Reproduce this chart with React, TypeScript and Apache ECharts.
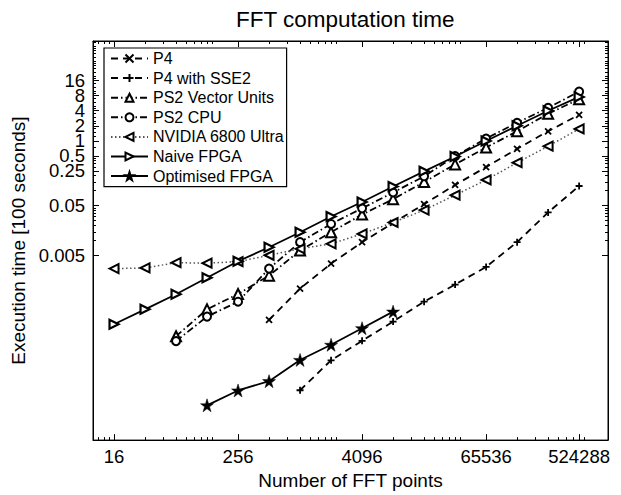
import React, { useEffect, useRef } from "react";
import * as echarts from "echarts";

// ---- data ----
const fftSizes = [16, 32, 64, 128, 256, 512, 1024, 2048, 4096, 8192, 16384, 32768, 65536, 131072, 262144, 524288];

const seriesNames = ["P4", "P4 with SSE2", "PS2 Vector Units", "PS2 CPU", "NVIDIA 6800 Ultra", "Naive FPGA", "Optimised FPGA"];

const p4Sizes = fftSizes.slice(5);
const p4Times = [2.56e-4, 1.09e-3, 3.44e-3, 9.29e-3, 0.0225, 0.0537, 0.13, 0.297, 0.69, 1.55, 3.32];

const sse2Sizes = fftSizes.slice(6);
const sse2Times = [9.98e-6, 3.98e-5, 9.77e-5, 2.38e-4, 5.94e-4, 1.31e-3, 2.96e-3, 9.29e-3, 0.0367, 0.124];

const ps2VuSizes = fftSizes.slice(2);
const ps2VuTimes = [1.21e-4, 4.18e-4, 8.49e-4, 1.98e-3, 6.32e-3, 0.0147, 0.0332, 0.0676, 0.149, 0.336, 0.733, 1.55, 3.48, 6.82];

const ps2CpuSizes = fftSizes.slice(2);
const ps2CpuTimes = [9.64e-5, 2.99e-4, 5.94e-4, 2.74e-3, 9.29e-3, 0.0215, 0.0442, 0.0918, 0.194, 0.492, 1.11, 2.3, 4.58, 9.66];

const nvidiaSizes = fftSizes;
const nvidiaTimes = [2.74e-3, 2.82e-3, 3.6e-3, 3.52e-3, 3.77e-3, 5.07e-3, 6.84e-3, 8.6e-3, 0.0136, 0.023, 0.0408, 0.0811, 0.164, 0.363, 0.778, 1.73];

const naiveSizes = fftSizes;
const naiveTimes = [2.1e-4, 4.18e-4, 8.41e-4, 1.79e-3, 3.85e-3, 7.33e-3, 0.0147, 0.0303, 0.0594, 0.121, 0.244, 0.485, 0.987, 2.0, 3.99, 7.58];

const optSizes = fftSizes.slice(3, 10);
const optTimes = [4.98e-6, 9.89e-6, 1.52e-5, 4.04e-5, 8.13e-5, 1.75e-4, 3.76e-4];

const xTickLabels = [16, 256, 4096, 65536, 524288];
const yTickLabels = [0.005, 0.05, 0.25, 0.5, 1, 2, 4, 8, 16];

// ---- styling ----
const FONT = "'Liberation Sans', Arial, Helvetica, sans-serif";
const X_MIN = 10;
const X_MAX = 1e6;
const Y_MIN = 1e-6;
const Y_MAX = 100;

const mult = [2, 3, 4, 5, 6, 7, 8, 9];
const xMinor = [11.2, 12.8, 14.4].concat(
  xTickLabels.slice(0, 4).flatMap((m) => mult.map((k) => m * k))
).filter((v) => v < X_MAX);
const yMinor = yTickLabels.flatMap((m) => mult.map((k) => m * k)).filter((v) => v < Y_MAX);
// y labels are split over two overlaid axes so that ECharts does not drop touching neighbours
const yLabelsA = yTickLabels.filter((_, i) => i < 2 || i % 2 === 1);
const yLabelsB = yTickLabels.filter((v) => yLabelsA.indexOf(v) < 0);

const STAR =
  "path://M50,0 L61.2,34.6 L97.6,34.5 L68.1,55.9 L79.4,90.5 L50,69 L20.6,90.5 L31.9,55.9 L2.4,34.5 L38.8,34.6 Z";
const PLUS = "path://M5,0 L5,10 M0,5 L10,5";
const CROSS = "path://M0,0 L10,10 M10,0 L0,10";
const TRI_LEFT = "path://M0,5 L10,0 L10,10 Z";
const TRI_RIGHT = "path://M10,5 L0,0 L0,10 Z";
const TRI_UP = "path://M5,0 L10,10 L0,10 Z";

function pairs(xs: number[], ys: number[]) {
  return xs.map((x, i) => [x, ys[i]]);
}

function xAxisDef(position: "top" | "bottom", major: boolean, withLabels: boolean) {
  return {
    type: "log",
    logBase: 10,
    min: X_MIN,
    max: X_MAX,
    position,
    gridIndex: 0,
    axisLine: { show: major, onZero: false, lineStyle: { color: "#000", width: 1 } },
    axisTick: {
      show: true,
      inside: true,
      length: major ? 6 : 3,
      customValues: major ? xTickLabels : xMinor,
      lineStyle: { color: "#000", width: 1 },
    },
    axisLabel: withLabels
      ? {
          show: true,
          customValues: xTickLabels,
          formatter: (v: number) => String(Math.round(v)),
          color: "#000",
          fontSize: 18.5,
          fontFamily: FONT,
          margin: 7,
          showMinLabel: true,
          showMaxLabel: true,
          hideOverlap: false,
        }
      : { show: false },
    splitLine: { show: false },
    minorTick: { show: false },
    minorSplitLine: { show: false },
    ...(withLabels
      ? {
          name: "Number of FFT points",
          nameLocation: "middle",
          nameGap: 21,
          nameTextStyle: { color: "#000", fontSize: 19, fontFamily: FONT },
        }
      : {}),
  };
}

function yAxisDef(
  position: "left" | "right",
  line: boolean,
  ticks: number[] | null,
  tickLen: number,
  labels: number[] | null,
  withName: boolean
) {
  return {
    type: "log",
    logBase: 10,
    min: Y_MIN,
    max: Y_MAX,
    position,
    gridIndex: 0,
    axisLine: { show: line, onZero: false, lineStyle: { color: "#000", width: 1 } },
    axisTick: ticks
      ? {
          show: true,
          inside: true,
          length: tickLen,
          customValues: ticks,
          lineStyle: { color: "#000", width: 1 },
        }
      : { show: false },
    axisLabel: labels
      ? {
          show: true,
          customValues: labels,
          formatter: (v: number) => String(v),
          color: "#000",
          fontSize: 18.5,
          fontFamily: FONT,
          margin: 8,
          showMinLabel: true,
          showMaxLabel: true,
          hideOverlap: false,
        }
      : { show: false },
    splitLine: { show: false },
    minorTick: { show: false },
    minorSplitLine: { show: false },
    ...(withName
      ? {
          name: "Execution time [100 seconds]",
          nameLocation: "middle",
          nameGap: 58,
          nameTextStyle: { color: "#000", fontSize: 19, fontFamily: FONT },
        }
      : {}),
  };
}

function lineSeries(
  name: string,
  data: number[][],
  dash: any,
  symbol: string,
  symbolSize: number,
  fill: string,
  borderWidth: number,
  lineColor = "#000",
  lineWidth = 1.8
) {
  return {
    name,
    type: "line",
    data,
    xAxisIndex: 0,
    yAxisIndex: 0,
    symbol,
    symbolSize,
    showAllSymbol: true,
    lineStyle: { color: lineColor, width: lineWidth, type: dash },
    itemStyle: { color: fill, borderColor: "#000", borderWidth },
    emphasis: { disabled: true },
  };
}

export default function App() {
  const ref = useRef<HTMLDivElement>(null);

  useEffect(() => {
    if (!ref.current) return;
    const chart = echarts.init(ref.current, undefined, { renderer: "svg" });
    const option: any = {
      animation: false,
      backgroundColor: "#fff",
      title: {
        text: "FFT computation time",
        left: 231,
        top: 3,
        textStyle: { color: "#000", fontSize: 22.5, fontWeight: "normal", fontFamily: FONT },
      },
      grid: {
        left: 93,
        right: 13,
        top: 41,
        bottom: 52,
        show: true,
        borderColor: "#000",
        borderWidth: 1,
        backgroundColor: "#fff",
        containLabel: false,
      },
      legend: {
        data: seriesNames,
        orient: "vertical",
        left: 104,
        top: 48,
        backgroundColor: "#fff",
        borderColor: "#000",
        borderWidth: 1.2,
        padding: [2.5, 2, 2.5, 6],
        itemWidth: 37,
        itemHeight: 10,
        itemGap: 3.6,
        selectedMode: false,
        textStyle: { color: "#000", fontSize: 16, fontFamily: FONT },
      },
      xAxis: [
        xAxisDef("bottom", true, true),
        xAxisDef("bottom", false, false),
        xAxisDef("top", true, false),
        xAxisDef("top", false, false),
      ],
      yAxis: [
        yAxisDef("left", true, yTickLabels, 6, yLabelsA, true),
        yAxisDef("left", false, yMinor, 3, null, false),
        yAxisDef("left", false, null, 0, yLabelsB, false),
        yAxisDef("right", true, yTickLabels, 6, null, false),
        yAxisDef("right", false, yMinor, 3, null, false),
      ],
      series: [
        lineSeries(seriesNames[0], pairs(p4Sizes, p4Times), [7, 5], CROSS, 6, "#000", 1.8),
        lineSeries(seriesNames[1], pairs(sse2Sizes, sse2Times), [7, 5], PLUS, 7, "#000", 1.8),
        lineSeries(seriesNames[2], pairs(ps2VuSizes, ps2VuTimes), [7, 3, 1.5, 3], TRI_UP, 10, "#fff", 2),
        lineSeries(seriesNames[3], pairs(ps2CpuSizes, ps2CpuTimes), [7, 3, 1.5, 3], "circle", 8, "#fff", 2),
        lineSeries(seriesNames[4], pairs(nvidiaSizes, nvidiaTimes), [1.5, 2.5], TRI_LEFT, 9, "#fff", 2, "#555", 1.5),
        lineSeries(seriesNames[5], pairs(naiveSizes, naiveTimes), "solid", TRI_RIGHT, 9, "#fff", 2.2),
        lineSeries(seriesNames[6], pairs(optSizes, optTimes), "solid", STAR, 13, "#000", 0.5),
      ],
    };
    chart.setOption(option);
    return () => chart.dispose();
  }, []);

  return (
    <div
      ref={ref}
      style={{ position: "fixed", left: 0, top: 0, width: 621, height: 495, background: "#fff" }}
    />
  );
}
